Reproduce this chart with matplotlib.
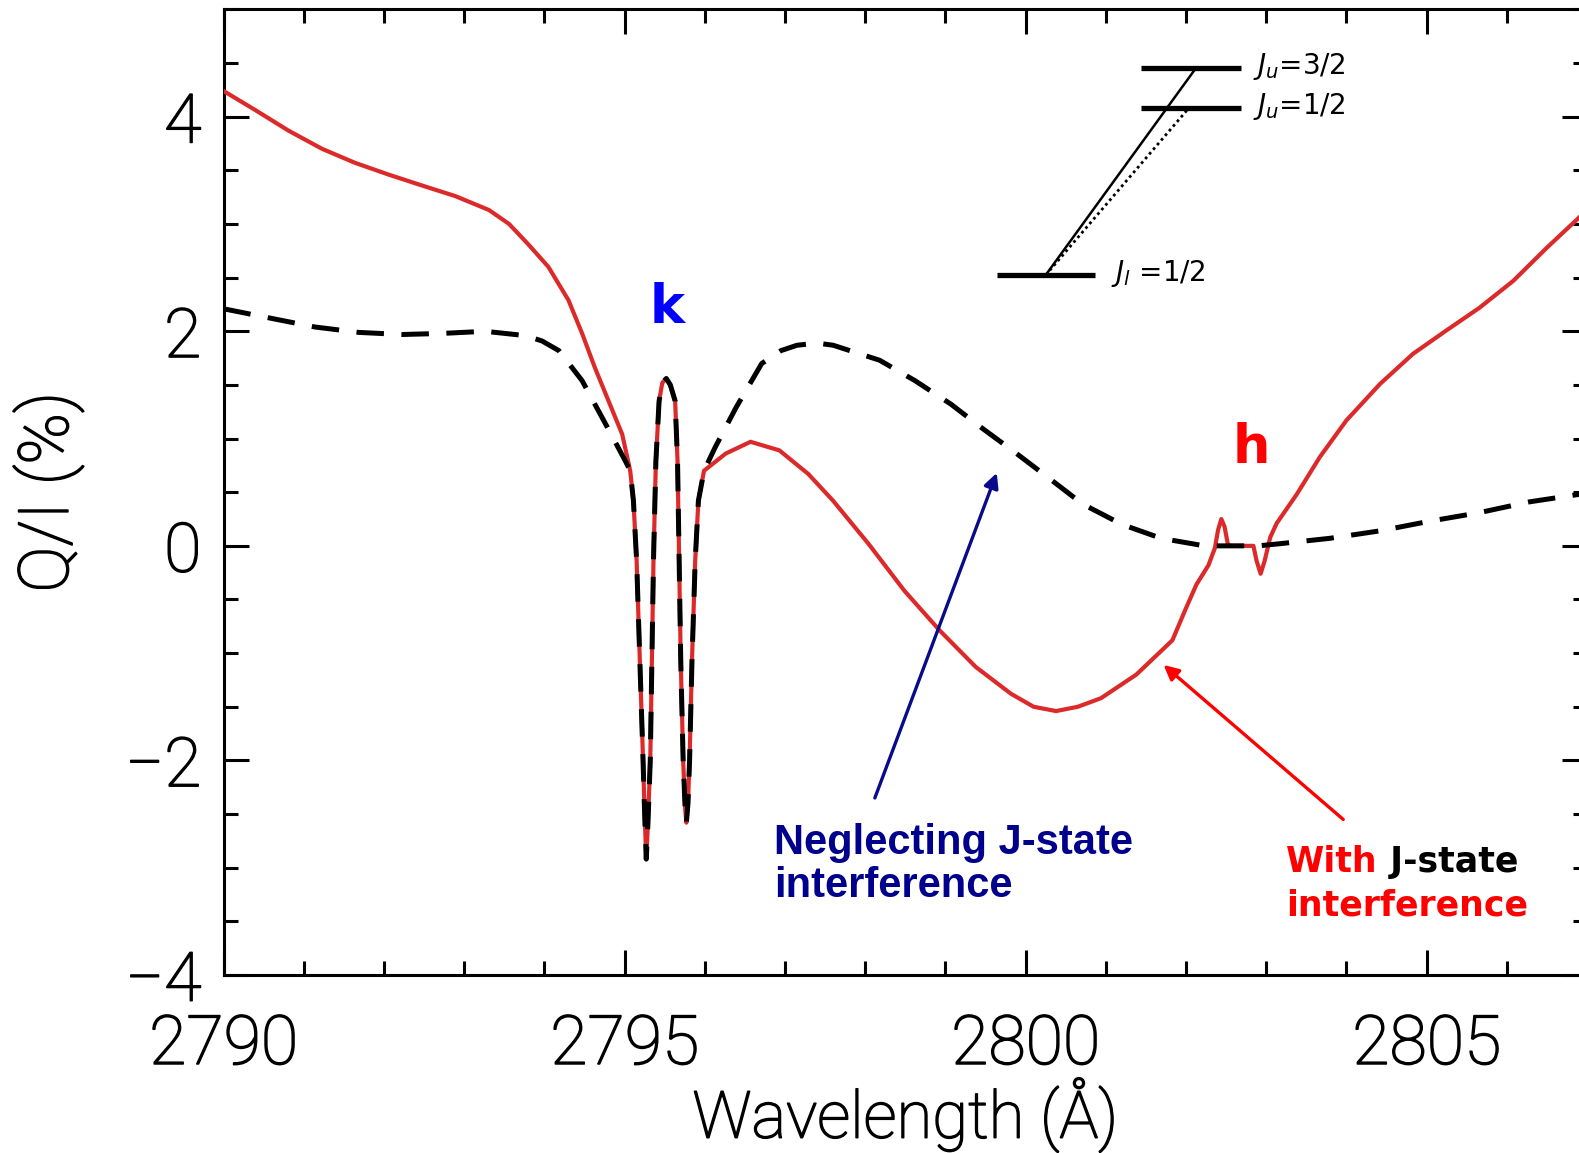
import matplotlib
matplotlib.use("Agg")
import matplotlib.pyplot as plt
import matplotlib.patheffects as pe
from matplotlib.ticker import MultipleLocator

# ---- Q/I (%) across the Mg II h & k lines ----
# blue wing, with J-state interference
with_blue_x = [2790.0, 2790.40, 2790.81, 2791.23, 2791.64, 2792.06, 2792.47,
               2792.89, 2793.31, 2793.56, 2793.80, 2794.05, 2794.30, 2794.47,
               2794.63, 2794.80, 2794.97]
with_blue_y = [4.24, 4.06, 3.87, 3.70, 3.57, 3.46, 3.36,
               3.26, 3.13, 3.00, 2.81, 2.60, 2.29, 1.98,
               1.66, 1.35, 1.04]

# blue wing, neglecting J-state interference
without_blue_x = [2790.0, 2790.60, 2791.14, 2791.68, 2792.22, 2792.72, 2793.26,
                  2793.76, 2793.97, 2794.18, 2794.47, 2794.76, 2795.01]
without_blue_y = [2.21, 2.12, 2.04, 1.99, 1.97, 1.98, 2.00,
                  1.96, 1.91, 1.82, 1.54, 1.14, 0.79]

# k-line core (identical in both calculations)
k_core_x = [2795.07, 2795.11, 2795.15, 2795.19, 2795.23, 2795.25, 2795.27,
            2795.29, 2795.32, 2795.34, 2795.36, 2795.39, 2795.43, 2795.47,
            2795.52, 2795.57, 2795.63, 2795.66, 2795.68, 2795.70, 2795.73,
            2795.755, 2795.77, 2795.79, 2795.81, 2795.84, 2795.88, 2795.92,
            2795.99]
k_core_y = [0.70, 0.42, -0.14, -1.07, -2.00, -2.50, -2.92,
            -2.60, -2.00, -1.07, -0.14, 0.79, 1.35, 1.52,
            1.56, 1.50, 1.35, 0.79, -0.14, -1.07, -2.00,
            -2.45, -2.58, -2.40, -2.00, -1.07, -0.14, 0.42,
            0.70]

# red side of k and the h line, with J-state interference
with_red_x = [2796.26, 2796.57, 2796.93, 2797.29, 2797.60, 2798.04, 2798.49,
              2798.93, 2799.38, 2799.82, 2800.10, 2800.38, 2800.65, 2800.94,
              2801.38, 2801.83, 2802.00, 2802.13, 2802.28, 2802.36, 2802.40,
              2802.44, 2802.48, 2802.52, 2802.55, 2802.84, 2802.88, 2802.93,
              2802.98, 2803.05, 2803.13, 2803.38, 2803.67, 2804.00, 2804.42,
              2804.83, 2805.25, 2805.66, 2806.08, 2806.50, 2806.90, 2807.0]
with_red_y = [0.86, 0.97, 0.89, 0.67, 0.42, 0.02, -0.42,
              -0.79, -1.13, -1.38, -1.50, -1.54, -1.50, -1.42,
              -1.20, -0.88, -0.58, -0.36, -0.18, -0.02, 0.15,
              0.25, 0.18, 0.02, 0.0, 0.0, -0.14, -0.26,
              -0.14, 0.08, 0.21, 0.48, 0.83, 1.17, 1.51,
              1.79, 2.01, 2.22, 2.47, 2.78, 3.06, 3.14]

# red side of k and the h line, neglecting J-state interference
without_red_x = [2796.13, 2796.39, 2796.71, 2796.95, 2797.15, 2797.40, 2797.60,
                 2798.18, 2798.62, 2799.07, 2799.47, 2799.87, 2800.31, 2800.71,
                 2801.20, 2801.69, 2802.23, 2802.90, 2803.17, 2803.79, 2804.42,
                 2805.04, 2805.66, 2806.28, 2806.90, 2807.0]
without_red_y = [0.92, 1.29, 1.70, 1.82, 1.87, 1.89, 1.87,
                 1.73, 1.54, 1.32, 1.09, 0.87, 0.62, 0.39,
                 0.20, 0.07, 0.0, 0.0, 0.02, 0.07, 0.14,
                 0.23, 0.31, 0.41, 0.48, 0.49]

with_x = with_blue_x + k_core_x + with_red_x
with_y = with_blue_y + k_core_y + with_red_y
without_x = without_blue_x + k_core_x + without_red_x
without_y = without_blue_y + k_core_y + without_red_y

xticks = [2790, 2795, 2800, 2805]
yticks = [-4, -2, 0, 2, 4]

AXIS_FONT = "Roboto"
RED = "#dc2a2a"
thicken = [pe.withStroke(linewidth=1.1, foreground="black")]

fig = plt.figure(figsize=(15.79, 11.53), dpi=100)
ax = fig.add_axes([0.1416, 0.1544, 0.8635, 0.8374])

ax.plot(with_x, with_y, color=RED, lw=3.0, solid_joinstyle="round",
        solid_capstyle="round", zorder=3)
ax.plot(without_x, without_y, color="black", lw=3.6, ls=(0, (5.5, 3.5)),
        zorder=4)

ax.set_xlim(2790, 2807)
ax.set_ylim(-4, 5)
ax.set_xticks(xticks)
ax.set_yticks(yticks)
ax.set_yticklabels(["\u2212%d" % -v if v < 0 else "%d" % v for v in yticks])
ax.xaxis.set_minor_locator(MultipleLocator(1))
ax.yaxis.set_minor_locator(MultipleLocator(0.5))
ax.tick_params(which="both", direction="in", top=True, right=True, width=2.2)
ax.tick_params(which="major", length=18)
ax.tick_params(which="minor", length=10)
ax.tick_params(axis="x", which="major", pad=27)
ax.tick_params(axis="y", which="major", pad=16)
for lab in ax.get_xticklabels() + ax.get_yticklabels():
    lab.set_fontfamily(AXIS_FONT)
    lab.set_fontweight("light")
    lab.set_fontsize(49)
    lab.set_path_effects(thicken)
for sp in ax.spines.values():
    sp.set_linewidth(2.2)

ax.set_xlabel("Wavelength (\u00c5)", fontsize=47, family=AXIS_FONT,
              fontweight="light", labelpad=0, path_effects=thicken)
ax.set_ylabel("Q/I (%)", fontsize=50, family=AXIS_FONT,
              fontweight="light", labelpad=30, path_effects=thicken)

# line labels
ax.text(2795.53, 2.22, "k", color="#0000ff", fontsize=38, fontweight="bold",
        ha="center", va="center")
ax.text(2802.81, 0.91, "h", color="#ff0000", fontsize=38, fontweight="bold",
        ha="center", va="center")

# curve annotations
ax.annotate("", xy=(2799.64, 0.68), xytext=(2798.12, -2.35),
            arrowprops=dict(arrowstyle="-|>", color="#0a0a8c", lw=2.4,
                            mutation_scale=22, shrinkA=0, shrinkB=0))
ax.text(2796.86, -2.58, "Neglecting J-state\ninterference", color="#00008c",
        fontsize=30, fontweight="bold", family="Liberation Sans",
        ha="left", va="top", linespacing=1.12)

ax.annotate("", xy=(2801.72, -1.11), xytext=(2803.96, -2.55),
            arrowprops=dict(arrowstyle="-|>", color="#ff0000", lw=2.4,
                            mutation_scale=22, shrinkA=0, shrinkB=0))
t_with = ax.text(2803.25, -3.04, "With", color="#ff0000", fontsize=25,
                 fontweight="bold", ha="left", va="baseline")
ax.annotate(" J-state", xy=(1, 0), xycoords=t_with, color="black",
            fontsize=25, fontweight="bold", ha="left", va="bottom")
ax.text(2803.25, -3.45, "interference", color="#ff0000", fontsize=25,
        fontweight="bold", ha="left", va="baseline")

# energy-level diagram of the Mg II doublet
tr = ax.transAxes
lvl = dict(color="black", lw=3.8, solid_capstyle="butt", transform=tr,
           clip_on=False)
ax.plot([0.673, 0.746], [0.939, 0.939], **lvl)
ax.plot([0.673, 0.746], [0.898, 0.898], **lvl)
ax.plot([0.567, 0.639], [0.725, 0.725], **lvl)
ax.plot([0.603, 0.713], [0.725, 0.939], color="black", lw=1.8, transform=tr)
ax.plot([0.603, 0.708], [0.725, 0.898], color="black", lw=2.0,
        ls=(0, (1, 1.2)), transform=tr)
ax.text(0.755, 0.941, r"$J_u$=3/2", fontsize=20, transform=tr,
        ha="left", va="center")
ax.text(0.755, 0.899, r"$J_u$=1/2", fontsize=20, transform=tr,
        ha="left", va="center")
ax.text(0.651, 0.727, r"$J_l$ =1/2", fontsize=20, transform=tr,
        ha="left", va="center")

fig.savefig("out.png", dpi=100)
